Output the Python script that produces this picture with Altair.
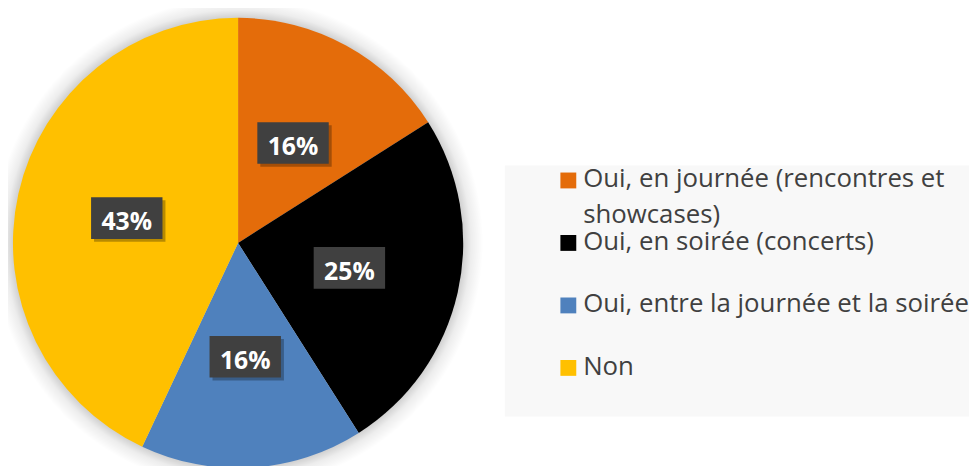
import altair as alt
import pandas as pd

categories = [
    "Oui, en journée (rencontres et showcases)",
    "Oui, en soirée (concerts)",
    "Oui, entre la journée et la soirée",
    "Non",
]
values = [16, 25, 16, 43]
label_texts = ["16%", "25%", "16%", "43%"]
legend_lines = [
    "Oui, en journée (rencontres et\nshowcases)",
    "Oui, en soirée (concerts)",
    "Oui, entre la journée et la soirée",
    "Non",
]
colors = ["#E46C0A", "#000000", "#4F81BD", "#FFC000"]

df = pd.DataFrame({
    "cat": categories,
    "value": values,
    "order": list(range(len(categories))),
    "label": label_texts,
    "legend": legend_lines,
})

CX, CY, R = 232, 235, 227
LR = 115
RS = R + 20
FONT = "Open Sans"

base = alt.Chart(df)

shadow_grad = alt.RadialGradient(
    gradient="radial", x1=0.5, y1=0.5, r1=0, x2=0.5, y2=0.5, r2=0.5,
    stops=[
        alt.GradientStop(offset=0, color="rgba(0,0,0,0.2)"),
        alt.GradientStop(offset=R / RS, color="rgba(0,0,0,0.18)"),
        alt.GradientStop(offset=(R + 8) / RS, color="rgba(0,0,0,0.07)"),
        alt.GradientStop(offset=1, color="rgba(0,0,0,0)"),
    ],
)

glow = base.transform_aggregate(total="sum(value)").mark_arc(
    radius=RS, theta=0, theta2=6.2832, fill=shadow_grad, strokeWidth=0
).encode(x=alt.value(CX), y=alt.value(CY))

pie = base.mark_arc(radius=R, strokeWidth=0).encode(
    theta=alt.Theta("value:Q", stack=True),
    order=alt.Order("order:Q"),
    color=alt.Color("cat:N", scale=alt.Scale(domain=categories, range=colors), legend=None),
    x=alt.value(CX),
    y=alt.value(CY),
)

lab = base.transform_window(
    cum="sum(value)", sort=[alt.SortField("order")], frame=[None, 0]
).transform_joinaggregate(
    total="sum(value)"
).transform_calculate(
    mid="(datum.cum - datum.value/2)/datum.total*2*PI",
    lx=f"{CX} + {LR}*sin(datum.mid)",
    ly=f"{CY} - {LR}*cos(datum.mid)",
    bx1="datum.lx - 36", bx2="datum.lx + 36",
    by1="datum.ly - 21", by2="datum.ly + 21",
    sx1="datum.lx - 33", sx2="datum.lx + 39",
    sy1="datum.ly - 18", sy2="datum.ly + 24",
    ty="datum.ly + 4",
)

box_shadow = lab.mark_rect(fill="#000000", opacity=0.28).encode(
    x=alt.X("sx1:Q", scale=None), x2="sx2:Q",
    y=alt.Y("sy1:Q", scale=None), y2="sy2:Q",
)
box = lab.mark_rect(fill="#404040").encode(
    x=alt.X("bx1:Q", scale=None), x2="bx2:Q",
    y=alt.Y("by1:Q", scale=None), y2="by2:Q",
)
txt = lab.mark_text(
    font=FONT, fontSize=25, fontWeight="bold", color="#FFFFFF",
    align="center", baseline="middle",
).encode(
    x=alt.X("lx:Q", scale=None),
    y=alt.Y("ty:Q", scale=None),
    text="label:N",
)

legend_bg = base.transform_aggregate(total="sum(value)").mark_rect(fill="#F8F8F8").encode(
    x=alt.value(501), x2=alt.value(969), y=alt.value(157), y2=alt.value(410)
)

leg = base.transform_calculate(
    sy1="164 + 63*datum.order",
    sy2="180 + 63*datum.order",
    ty="179 + 63*datum.order",
    lines="split(datum.legend, '\\n')",
)
leg_sq = leg.mark_rect().encode(
    x=alt.value(557), x2=alt.value(573),
    y=alt.Y("sy1:Q", scale=None), y2="sy2:Q",
    color=alt.Color("cat:N", scale=alt.Scale(domain=categories, range=colors), legend=None),
)
leg_txt = leg.mark_text(
    font=FONT, fontSize=26, color="#404040", align="left",
    baseline="alphabetic", lineHeight=36,
).encode(
    x=alt.value(580),
    y=alt.Y("ty:Q", scale=None),
    text="lines:N",
)

chart = alt.layer(
    glow, pie, box_shadow, box, txt, legend_bg, leg_sq, leg_txt
).properties(
    width=969, height=458, padding=0,
    autosize=alt.AutoSizeParams(type="none"),
).configure_view(strokeWidth=0)

chart.save("out.html", embed_options={"renderer": "svg", "actions": False})
